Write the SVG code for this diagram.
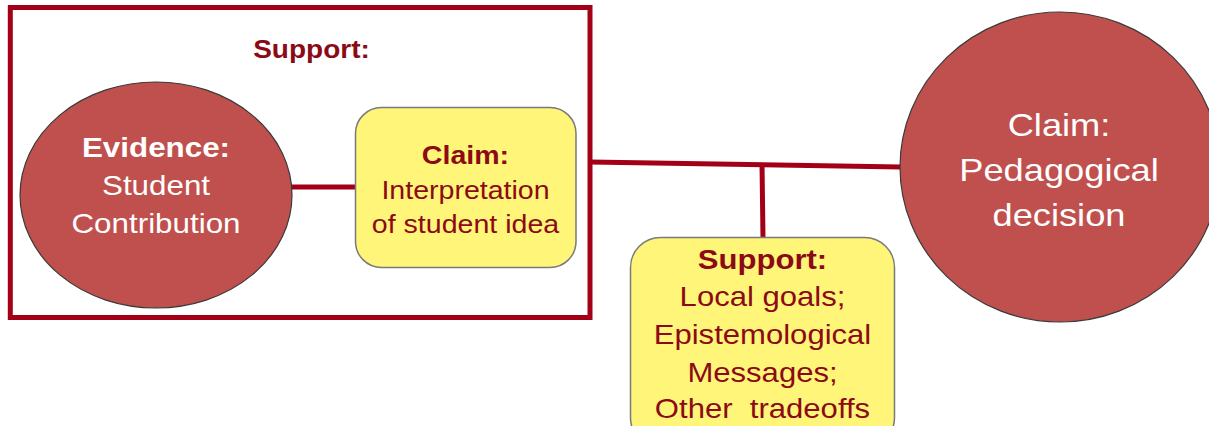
<svg xmlns="http://www.w3.org/2000/svg" width="1209" height="426" viewBox="0 0 1209 426">
<style>
.frame{fill:none;stroke:#A30018;stroke-width:5}
.conn{stroke:#A30018;stroke-width:5;fill:none}
.circ{fill:#C0504D;stroke:#3a3a3a;stroke-width:1.2}
.box{fill:#FFF679;stroke:#7a7a7a;stroke-width:1.5}
text{font-family:"Liberation Sans",Arial,sans-serif;text-anchor:middle}
.w{fill:#ffffff}
.r{fill:#8C0A16}
.b{font-weight:bold}
</style>
<rect width="1209" height="426" fill="#ffffff"/>
<g id="connectors">
<line class="conn" x1="291" y1="187" x2="356" y2="187"/>
<line class="conn" x1="590" y1="162" x2="901" y2="167"/>
<line class="conn" x1="762" y1="163" x2="763" y2="238"/>
</g>
<g id="support-group">
<rect class="frame" x="10.3" y="7.5" width="579.7" height="310"/>
<g transform="translate(311.5,58) scale(1.12,1)"><text class="r b" x="0" y="0" font-size="25">Support:</text></g>
</g>
<g id="evidence">
<ellipse class="circ" cx="156" cy="195" rx="136" ry="113"/>
<g transform="translate(156,0) scale(1.12,1)" font-size="28">
<text class="w b" x="0" y="157">Evidence:</text>
<text class="w" x="0" y="195">Student</text>
<text class="w" x="0" y="233">Contribution</text>
</g>
</g>
<g id="claim-interpretation">
<rect class="box" x="355.5" y="107.5" width="220.5" height="160" rx="26" ry="26"/>
<g transform="translate(465.5,0) scale(1.12,1)" font-size="25.5">
<text class="r b" x="0" y="164">Claim:</text>
<text class="r" x="0" y="199">Interpretation</text>
<text class="r" x="0" y="233">of student idea</text>
</g>
</g>
<g id="claim-pedagogical">
<ellipse class="circ" cx="1060" cy="167" rx="160" ry="155"/>
<g transform="translate(1059,0) scale(1.17,1)" font-size="31">
<text class="w" x="0" y="136">Claim:</text>
<text class="w" x="0" y="181.5">Pedagogical</text>
<text class="w" x="0" y="226.5">decision</text>
</g>
</g>
<g id="support-other">
<rect class="box" x="630.5" y="237.5" width="264" height="210" rx="30" ry="30"/>
<g transform="translate(762.5,0) scale(1.13,1)" font-size="27.5">
<text class="r b" x="0" y="269.5">Support:</text>
<text class="r" x="0" y="306.5">Local goals;</text>
<text class="r" x="0" y="344">Epistemological</text>
<text class="r" x="0" y="382">Messages;</text>
<text class="r" x="0" y="418" xml:space="preserve" style="white-space:pre">Other  tradeoffs</text>
</g>
</g>
</svg>
